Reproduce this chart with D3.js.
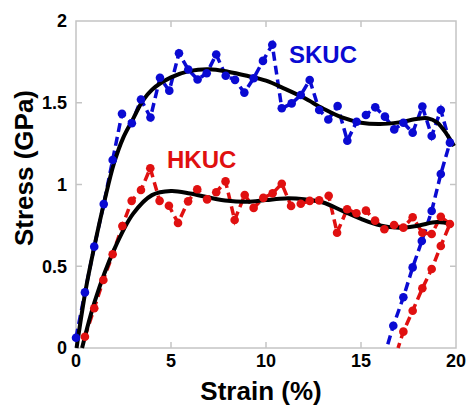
<!DOCTYPE html>
<html>
<head>
<meta charset="utf-8">
<script src="https://cdn.jsdelivr.net/npm/d3@7"></script>
<style>
  body { margin: 0; background: #fff; }
  text { font-family: "Liberation Sans", Arial, sans-serif; font-weight: bold; }
</style>
</head>
<body>
<script>
// strain (%) and stress (GPa)
var skucStrain = [0, 0.47, 0.96, 1.46, 1.93, 2.42, 2.94, 3.42, 3.92, 4.42, 4.91, 5.42, 5.91, 6.40, 6.88, 7.38, 7.88, 8.37, 8.86, 9.35, 9.84, 10.33, 10.83, 11.35, 11.83, 12.30, 12.80, 13.28, 13.77, 14.28, 14.77, 15.26, 15.75, 16.26, 16.75, 17.23, 17.72, 18.23, 18.72, 19.20, 19.68];
var skucStress = [0.063, 0.34, 0.62, 0.88, 1.15, 1.433, 1.375, 1.52, 1.41, 1.653, 1.574, 1.803, 1.703, 1.642, 1.68, 1.795, 1.665, 1.64, 1.562, 1.65, 1.756, 1.855, 1.466, 1.496, 1.547, 1.639, 1.456, 1.398, 1.48, 1.268, 1.384, 1.425, 1.472, 1.415, 1.337, 1.378, 1.317, 1.477, 1.297, 1.456, 1.256];
var skucUnloadStrain = [19.68, 19.2, 18.72, 18.2, 17.72, 17.23, 16.7, 16.35];
var skucUnloadStress = [1.256, 1.064, 0.838, 0.654, 0.493, 0.31, 0.136, 0];

var hkucStrain = [0.47, 0.96, 1.44, 1.93, 2.44, 2.93, 3.42, 3.91, 4.40, 4.89, 5.37, 5.90, 6.38, 6.90, 7.38, 7.87, 8.35, 8.88, 9.35, 9.86, 10.35, 10.83, 11.32, 11.83, 12.30, 12.80, 13.30, 13.74, 14.27, 14.76, 15.26, 15.74, 16.23, 16.74, 17.23, 17.72, 18.23, 18.72, 19.20, 19.68];
var hkucStress = [0.069, 0.243, 0.416, 0.573, 0.746, 0.90, 0.966, 1.099, 0.90, 0.87, 0.765, 0.897, 0.971, 0.909, 0.953, 1.019, 0.783, 0.936, 0.857, 0.918, 0.946, 1.005, 0.869, 0.882, 0.90, 0.903, 0.931, 0.705, 0.849, 0.824, 0.84, 0.779, 0.726, 0.752, 0.736, 0.80, 0.705, 0.697, 0.803, 0.758];
var hkucUnloadStrain = [19.68, 19.2, 18.72, 18.23, 17.72, 17.23, 16.95];
var hkucUnloadStress = [0.758, 0.624, 0.483, 0.365, 0.228, 0.10, 0];

// smooth fits (black)
var skucFitStrain = [0.03, 0.5, 1, 1.5, 2, 2.5, 3, 3.5, 4, 5, 6, 7, 8, 9, 10, 11, 12, 13, 14, 15, 16, 17, 18, 18.5, 19, 19.5, 19.9];
var skucFitStress = [0, 0.35, 0.64, 0.9, 1.13, 1.29, 1.4, 1.51, 1.58, 1.655, 1.695, 1.705, 1.69, 1.665, 1.635, 1.585, 1.53, 1.465, 1.41, 1.378, 1.37, 1.38, 1.402, 1.405, 1.38, 1.31, 1.235];
var hkucFitStrain = [0.32, 1, 2, 3, 4, 5, 6, 7, 8, 9, 10, 11, 12, 13, 14, 15, 16, 17, 18, 19, 19.8];
var hkucFitStress = [0, 0.29, 0.6, 0.82, 0.935, 0.96, 0.945, 0.92, 0.9, 0.895, 0.905, 0.915, 0.91, 0.89, 0.84, 0.79, 0.75, 0.735, 0.748, 0.77, 0.755];

var xTicks = [0, 5, 10, 15, 20];
var yTicks = [0, 0.5, 1, 1.5, 2];
var yTickLabels = ["0", "0.5", "1", "1.5", "2"];

var width = 469, height = 408;
var blue = "#0a0ad2", red = "#e01010";

var svg = d3.select("body").append("svg")
    .attr("width", width)
    .attr("height", height);

var x = d3.scaleLinear().domain([0, 20]).range([76, 456]);
var y = d3.scaleLinear().domain([0, 2]).range([348, 21]);

// frame + inward ticks
svg.append("rect")
   .attr("x", x(0)).attr("y", y(2))
   .attr("width", x(20) - x(0)).attr("height", y(0) - y(2))
   .attr("fill", "none").attr("stroke", "#c4c4c4").attr("stroke-width", 1.5);

var tk = svg.append("g").attr("stroke", "#c4c4c4").attr("stroke-width", 1.5);
xTicks.slice(1, -1).forEach(function(t) {
    tk.append("line").attr("x1", x(t)).attr("x2", x(t)).attr("y1", y(0)).attr("y2", y(0) - 6);
    tk.append("line").attr("x1", x(t)).attr("x2", x(t)).attr("y1", y(2)).attr("y2", y(2) + 6);
});
yTicks.slice(1, -1).forEach(function(t) {
    tk.append("line").attr("x1", x(0)).attr("x2", x(0) + 6).attr("y1", y(t)).attr("y2", y(t));
    tk.append("line").attr("x1", x(20)).attr("x2", x(20) - 6).attr("y1", y(t)).attr("y2", y(t));
});

svg.selectAll(".xt").data(xTicks).enter().append("text")
   .attr("x", function(d) { return x(d); })
   .attr("y", 367)
   .attr("text-anchor", "middle")
   .attr("font-size", 18)
   .text(function(d) { return d; });

svg.selectAll(".yt").data(yTicks).enter().append("text")
   .attr("x", 67)
   .attr("y", function(d) { return y(d); })
   .attr("dy", "0.36em")
   .attr("text-anchor", "end")
   .attr("font-size", 18)
   .text(function(d, i) { return yTickLabels[i]; });

svg.append("text")
   .attr("x", 261).attr("y", 400)
   .attr("text-anchor", "middle")
   .attr("font-size", 26)
   .text("Strain (%)");

svg.append("text")
   .attr("transform", "translate(33,168) rotate(-90)")
   .attr("text-anchor", "middle")
   .attr("font-size", 26)
   .text("Stress (GPa)");

function pairs(xs, ys) { return xs.map(function(v, i) { return [v, ys[i]]; }); }

var line = d3.line().x(function(d) { return x(d[0]); }).y(function(d) { return y(d[1]); });
var smooth = d3.line().curve(d3.curveCatmullRom.alpha(0.5))
    .x(function(d) { return x(d[0]); }).y(function(d) { return y(d[1]); });

var series = [
    { pts: pairs(skucStrain, skucStress).concat(pairs(skucUnloadStrain, skucUnloadStress).slice(1)), color: blue },
    { pts: pairs(hkucStrain, hkucStress).concat(pairs(hkucUnloadStrain, hkucUnloadStress).slice(1)), color: red }
];

series.forEach(function(s) {
    svg.append("path").attr("d", line(s.pts))
       .attr("fill", "none").attr("stroke", s.color)
       .attr("stroke-width", 3.5).attr("stroke-dasharray", "9,5");
});

svg.append("path").attr("d", smooth(pairs(skucFitStrain, skucFitStress)))
   .attr("fill", "none").attr("stroke", "#000").attr("stroke-width", 4);
svg.append("path").attr("d", smooth(pairs(hkucFitStrain, hkucFitStress)))
   .attr("fill", "none").attr("stroke", "#000").attr("stroke-width", 4);

series.forEach(function(s) {
    svg.append("g").selectAll("circle")
       .data(s.pts.filter(function(d) { return d[1] > 0; }))
       .enter().append("circle")
       .attr("cx", function(d) { return x(d[0]); })
       .attr("cy", function(d) { return y(d[1]); })
       .attr("r", 4.3)
       .attr("fill", s.color);
});

svg.append("text").attr("x", 289).attr("y", 63)
   .attr("font-size", 24).attr("fill", blue).text("SKUC");
svg.append("text").attr("x", 167).attr("y", 168)
   .attr("font-size", 24).attr("fill", red).text("HKUC");
</script>
</body>
</html>
